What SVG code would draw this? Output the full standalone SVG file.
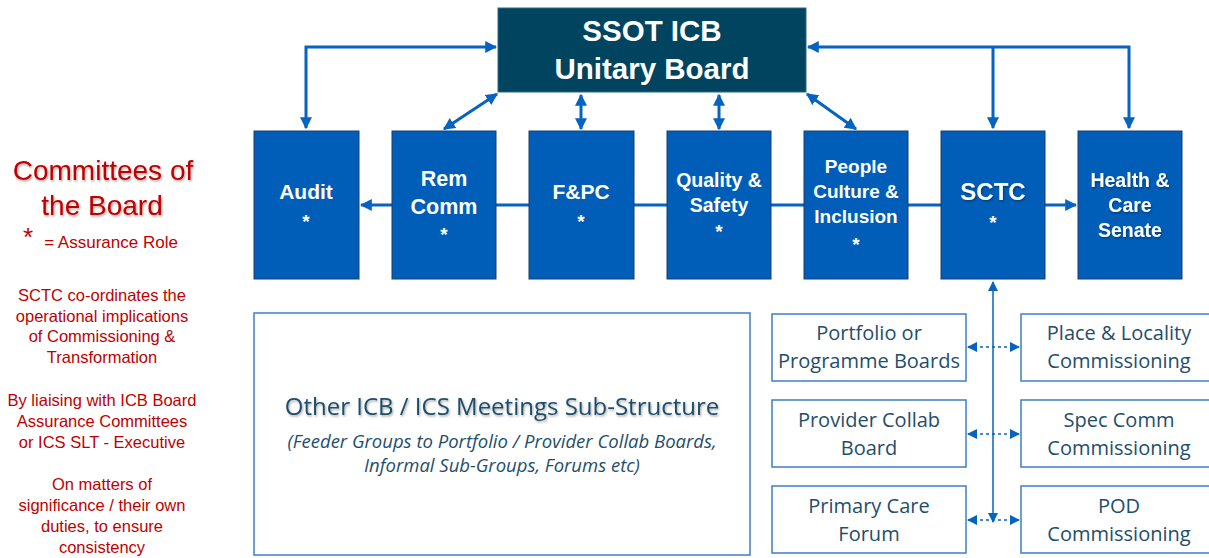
<svg xmlns="http://www.w3.org/2000/svg" width="1209" height="558" viewBox="0 0 1209 558">
  <defs>
    <style>
      .board { fill: #00445f; stroke: #2a6b86; stroke-width: 1; }
      .cttee { fill: #005eb8; stroke: #1d3d6b; stroke-width: 1; }
      .sub { fill: #ffffff; stroke: #3d7fc6; stroke-width: 1.5; }
      .conn { fill: none; stroke: #0563c1; stroke-width: 3; }
      .thin { fill: none; stroke: #0563c1; stroke-width: 1.5; }
      .dash { fill: none; stroke: #0563c1; stroke-width: 1.5; stroke-dasharray: 3 3; }
      .bt { font-family: "Liberation Sans", Arial, sans-serif; font-weight: bold; fill: #ffffff; text-anchor: middle; }
      .st { font-family: "Open Sans", "Liberation Sans", sans-serif; fill: #1f4e6b; text-anchor: middle; }
      .sg { font-size: 20px; }
      .ttl { font-size: 24px; }
      .note { font-size: 18.5px; font-style: italic; }
      .red { font-family: "Liberation Sans", Arial, sans-serif; fill: #c00000; text-anchor: middle; }
    </style>
    <marker id="ah" viewBox="0 0 10 10" refX="9" refY="5" markerWidth="4" markerHeight="4" orient="auto-start-reverse">
      <path d="M0,0 L10,5 L0,10 Z" fill="#0563c1"/>
    </marker>
    <marker id="ahs" viewBox="0 0 10 10" refX="9" refY="5" markerWidth="7" markerHeight="7" orient="auto-start-reverse">
      <path d="M0,0 L10,5 L0,10 Z" fill="#0563c1"/>
    </marker>
    <filter id="shadow" x="-10%" y="-10%" width="120%" height="130%">
      <feDropShadow dx="1" dy="1.5" stdDeviation="1" flood-color="#000000" flood-opacity="0.35"/>
    </filter>
  </defs>

  <rect width="1209" height="558" fill="#ffffff"/>

  <!-- connectors -->
  <g id="connectors">
    <!-- board to Audit -->
    <polyline class="conn" points="496,47 306,47 306,128" marker-start="url(#ah)" marker-end="url(#ah)"/>
    <!-- board to SCTC and Senate -->
    <polyline class="conn" points="808,47 1129,47 1129,128" marker-start="url(#ah)" marker-end="url(#ah)"/>
    <line class="conn" x1="993" y1="47" x2="993" y2="128" marker-end="url(#ah)"/>
    <!-- board to middle committees -->
    <line class="conn" x1="497" y1="94" x2="444" y2="129" marker-start="url(#ah)" marker-end="url(#ah)"/>
    <line class="conn" x1="581" y1="95" x2="581" y2="129" marker-start="url(#ah)" marker-end="url(#ah)"/>
    <line class="conn" x1="719" y1="95" x2="719" y2="129" marker-start="url(#ah)" marker-end="url(#ah)"/>
    <line class="conn" x1="807" y1="94" x2="856" y2="129" marker-start="url(#ah)" marker-end="url(#ah)"/>
    <!-- horizontal links between committees -->
    <line class="conn" x1="392" y1="205" x2="361" y2="205" marker-end="url(#ah)"/>
    <line class="conn" x1="496" y1="205" x2="529" y2="205"/>
    <line class="conn" x1="634" y1="205" x2="667" y2="205"/>
    <line class="conn" x1="771" y1="205" x2="804" y2="205"/>
    <line class="conn" x1="908" y1="205" x2="941" y2="205"/>
    <line class="conn" x1="1045" y1="205" x2="1076" y2="205" marker-end="url(#ah)"/>
    <!-- SCTC down to sub-groups -->
    <line class="thin" x1="993" y1="282" x2="993" y2="522" marker-start="url(#ahs)" marker-end="url(#ahs)"/>
    <!-- dotted links between sub-groups -->
    <line class="dash" x1="968" y1="347" x2="1019" y2="347" marker-start="url(#ahs)" marker-end="url(#ahs)"/>
    <line class="dash" x1="968" y1="434" x2="1019" y2="434" marker-start="url(#ahs)" marker-end="url(#ahs)"/>
    <line class="dash" x1="968" y1="520" x2="1019" y2="520" marker-start="url(#ahs)" marker-end="url(#ahs)"/>
  </g>

  <!-- unitary board -->
  <g id="board">
    <rect class="board" x="498" y="8" width="308" height="84"/>
    <text class="bt" x="652" y="41" font-size="29.5">SSOT ICB</text>
    <text class="bt" x="652" y="79" font-size="29.5">Unitary Board</text>
  </g>

  <!-- committees -->
  <g id="audit">
    <rect class="cttee" x="254" y="131" width="105" height="148"/>
    <text class="bt" x="306" y="199" font-size="21">Audit</text>
    <text class="bt" x="306" y="228" font-size="19">*</text>
  </g>
  <g id="remcomm">
    <rect class="cttee" x="392" y="131" width="104" height="148"/>
    <text class="bt" x="444" y="186" font-size="21.5">Rem</text>
    <text class="bt" x="444" y="214" font-size="21.5">Comm</text>
    <text class="bt" x="444" y="241" font-size="19">*</text>
  </g>
  <g id="fpc">
    <rect class="cttee" x="529" y="131" width="105" height="148"/>
    <text class="bt" x="581" y="199" font-size="21">F&amp;PC</text>
    <text class="bt" x="581" y="228" font-size="19">*</text>
  </g>
  <g id="quality">
    <rect class="cttee" x="667" y="131" width="104" height="148"/>
    <text class="bt" x="719" y="187" font-size="19.5">Quality &amp;</text>
    <text class="bt" x="719" y="212" font-size="19.5">Safety</text>
    <text class="bt" x="719" y="238" font-size="19">*</text>
  </g>
  <g id="people">
    <rect class="cttee" x="804" y="131" width="104" height="148"/>
    <text class="bt" x="856" y="173" font-size="19">People</text>
    <text class="bt" x="856" y="198" font-size="19">Culture &amp;</text>
    <text class="bt" x="856" y="223" font-size="19">Inclusion</text>
    <text class="bt" x="856" y="251" font-size="19">*</text>
  </g>
  <g id="sctc">
    <rect class="cttee" x="941" y="131" width="104" height="148"/>
    <text class="bt" x="993" y="200" font-size="24" filter="url(#shadow)">SCTC</text>
    <text class="bt" x="993" y="229" font-size="19">*</text>
  </g>
  <g id="senate">
    <rect class="cttee" x="1078" y="131" width="104" height="148"/>
    <text class="bt" x="1130" y="187" font-size="19.5" filter="url(#shadow)">Health &amp;</text>
    <text class="bt" x="1130" y="212" font-size="19.5" filter="url(#shadow)">Care</text>
    <text class="bt" x="1130" y="237" font-size="19.5" filter="url(#shadow)">Senate</text>
  </g>

  <!-- other meetings sub-structure -->
  <g id="other-meetings">
    <rect class="sub" x="254" y="313" width="496" height="242"/>
    <text class="st ttl" x="502" y="415" filter="url(#shadow)">Other ICB / ICS Meetings Sub-Structure</text>
    <text class="st note" x="502" y="448">(Feeder Groups to Portfolio / Provider Collab Boards,</text>
    <text class="st note" x="502" y="472">Informal Sub-Groups, Forums etc)</text>
  </g>

  <!-- sub-groups -->
  <g id="portfolio">
    <rect class="sub" x="772" y="314" width="194" height="67"/>
    <text class="st sg" x="869" y="340">Portfolio or</text>
    <text class="st sg" x="869" y="368">Programme Boards</text>
  </g>
  <g id="provider">
    <rect class="sub" x="772" y="400" width="194" height="67"/>
    <text class="st sg" x="869" y="427">Provider Collab</text>
    <text class="st sg" x="869" y="455">Board</text>
  </g>
  <g id="primary-care">
    <rect class="sub" x="772" y="486" width="194" height="67"/>
    <text class="st sg" x="869" y="513">Primary Care</text>
    <text class="st sg" x="869" y="541">Forum</text>
  </g>
  <g id="place">
    <rect class="sub" x="1021" y="314" width="194" height="67"/>
    <text class="st sg" x="1119" y="340">Place &amp; Locality</text>
    <text class="st sg" x="1119" y="368">Commissioning</text>
  </g>
  <g id="spec-comm">
    <rect class="sub" x="1021" y="400" width="194" height="67"/>
    <text class="st sg" x="1119" y="427">Spec Comm</text>
    <text class="st sg" x="1119" y="455">Commissioning</text>
  </g>
  <g id="pod">
    <rect class="sub" x="1021" y="486" width="194" height="67"/>
    <text class="st sg" x="1119" y="513">POD</text>
    <text class="st sg" x="1119" y="541">Commissioning</text>
  </g>

  <!-- key and notes -->
  <g id="notes">
    <text class="red" x="103" y="180" font-size="28" filter="url(#shadow)">Committees of</text>
    <text class="red" x="102" y="215" font-size="28" filter="url(#shadow)">the Board</text>
    <text class="red" x="28" y="246" font-size="26">*</text>
    <text class="red" x="111" y="248" font-size="17">= Assurance Role</text>
    <text class="red" x="102" y="301" font-size="16.5">SCTC co-ordinates the</text>
    <text class="red" x="102" y="322" font-size="16.5">operational implications</text>
    <text class="red" x="102" y="342" font-size="16.5">of Commissioning &amp;</text>
    <text class="red" x="102" y="363" font-size="16.5">Transformation</text>
    <text class="red" x="102" y="406" font-size="16.5">By liaising with ICB Board</text>
    <text class="red" x="102" y="427" font-size="16.5">Assurance Committees</text>
    <text class="red" x="102" y="448" font-size="16.5">or ICS SLT - Executive</text>
    <text class="red" x="102" y="490" font-size="16.5">On matters of</text>
    <text class="red" x="102" y="511" font-size="16.5">significance / their own</text>
    <text class="red" x="102" y="532" font-size="16.5">duties, to ensure</text>
    <text class="red" x="102" y="553" font-size="16.5">consistency</text>
  </g>
</svg>
